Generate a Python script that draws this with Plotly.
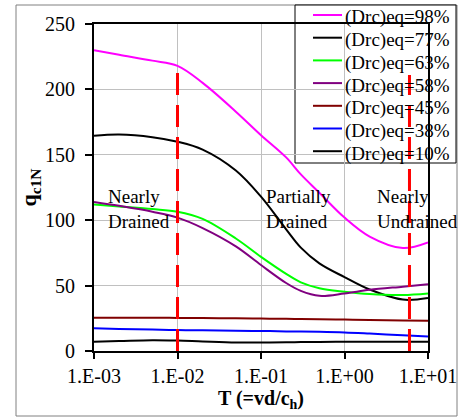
import plotly.graph_objects as go

# ---- data ----
T = [1e-3, 2e-3, 5e-3, 1e-2, 2e-2, 5e-2, 1e-1, 2e-1, 3e-1, 5e-1, 1e0, 2e0, 5e0, 1e1]

q98 = [230, 226.5, 222, 218, 205, 183, 165, 148, 135, 121, 102, 87.5, 78.7, 83]
q77 = [164.5, 165.5, 163.5, 160, 154, 138, 118, 93, 79, 67, 56.5, 47, 39.3, 40.5]
q63 = [112, 110.5, 108.5, 106.5, 101, 86, 72, 59, 52.5, 48, 45.3, 43.5, 42.8, 44]
q58 = [114, 111, 106.5, 102, 94, 80, 65.7, 52, 46, 42.2, 44, 46.8, 49.2, 51]
q45 = [25.5, 25.4, 25.4, 25.3, 25.2, 25.0, 24.8, 24.6, 24.4, 24.3, 24.0, 23.7, 23.4, 23.2]
q38 = [17.3, 16.9, 16.4, 16.0, 15.8, 15.5, 15.3, 15.0, 14.9, 14.7, 14.2, 13.3, 12.0, 11.0]
q10 = [7.1, 7.6, 8.3, 8.0, 7.3, 6.5, 6.5, 6.7, 6.8, 6.9, 7.1, 7.1, 7.1, 7.1]

series_names = ["(Drc)eq=98%", "(Drc)eq=77%", "(Drc)eq=63%", "(Drc)eq=58%",
                "(Drc)eq=45%", "(Drc)eq=38%", "(Drc)eq=10%"]
series_values = [q98, q77, q63, q58, q45, q38, q10]
series_colors = ["#ff00ff", "#000000", "#00ff00", "#800080", "#800000", "#0000ff", "#000000"]

# boundaries between drainage zones
bound_T = [1e-2, 6.0]
bound_top = [218, 211]

x_tickvals = [1e-3, 1e-2, 1e-1, 1e0, 1e1]
x_ticktext = ["1.E-03", "1.E-02", "1.E-01", "1.E+00", "1.E+01"]

zone_labels = ["Nearly<br>Drained", "Partially<br>Drained", "Nearly<br>Undrained"]
zone_label_px = [106, 264, 375]

FONT = "Liberation Serif"

# pixel geometry of the plot area
PX_L, PX_R, PY_T, PY_B = 94.0, 428.0, 24.0, 351.0


def px2paper_x(px):
    return (px - PX_L) / (PX_R - PX_L)


def py2paper_y(py):
    return (PY_B - py) / (PY_B - PY_T)


fig = go.Figure()

for name, vals, col in zip(series_names, series_values, series_colors):
    fig.add_trace(go.Scatter(x=T, y=vals, name=name, mode="lines", showlegend=False,
                             line=dict(color=col, width=2, shape="spline", smoothing=1.0)))

for bx, by in zip(bound_T, bound_top):
    fig.add_trace(go.Scatter(x=[bx, bx], y=[0, by], mode="lines", showlegend=False,
                             line=dict(color="#ff0000", width=3, dash="22px,10px")))

for txt, px in zip(zone_labels, zone_label_px):
    fig.add_annotation(text=txt, xref="paper", yref="paper", x=px2paper_x(px), y=py2paper_y(209),
                       xanchor="left", yanchor="middle", align="left", showarrow=False,
                       font=dict(family=FONT, size=19, color="black"))

# outer chart border
fig.add_shape(type="rect", xref="paper", yref="paper",
              x0=px2paper_x(16), x1=px2paper_x(457), y0=py2paper_y(416), y1=py2paper_y(5),
              line=dict(color="#808080", width=1), layer="below")

# legend box (drawn by hand so that row spacing matches the reference)
fig.add_shape(type="rect", xref="paper", yref="paper",
              x0=px2paper_x(295), x1=px2paper_x(456), y0=py2paper_y(163), y1=py2paper_y(5),
              line=dict(color="black", width=1), fillcolor="white", layer="between")
row0, row_gap = 15.0, 22.7
for i, (name, col) in enumerate(zip(series_names, series_colors)):
    ry = row0 + i * row_gap
    fig.add_shape(type="line", xref="paper", yref="paper",
                  x0=px2paper_x(313), x1=px2paper_x(342), y0=py2paper_y(ry), y1=py2paper_y(ry),
                  line=dict(color=col, width=2), layer="above")
    fig.add_annotation(text=name, xref="paper", yref="paper",
                       x=px2paper_x(343), y=py2paper_y(ry + 2.5),
                       xanchor="left", yanchor="middle", showarrow=False,
                       font=dict(family=FONT, size=19, color="black"))

fig.update_layout(
    width=458, height=417,
    margin=dict(l=94, r=30, t=24, b=66, autoexpand=False),
    paper_bgcolor="white", plot_bgcolor="white",
    font=dict(family=FONT, size=20, color="black"),
    showlegend=False,
    xaxis=dict(type="log", range=[-3, 1], tickvals=x_tickvals, ticktext=x_ticktext,
               showgrid=True, gridcolor="#c0c0c0", gridwidth=1,
               showline=True, linecolor="black", linewidth=2, mirror=True,
               ticks="outside", ticklen=6, tickwidth=1.5, tickcolor="black",
               zeroline=False, automargin=True,
               title=dict(text="<b>T (=vd/c<sub>h</sub>)</b>", standoff=0,
                          font=dict(family=FONT, size=20))),
    yaxis=dict(range=[0, 250], dtick=50, tick0=0,
               showgrid=True, gridcolor="#c0c0c0", gridwidth=1,
               showline=True, linecolor="black", linewidth=2, mirror=True,
               ticks="outside", ticklen=7, tickwidth=1.5, tickcolor="black",
               zeroline=False, ticklabelstandoff=6, automargin=True,
               title=dict(text="<b>q<sub>c1N</sub></b>", standoff=2,
                          font=dict(family=FONT, size=22))),
)

fig.write_html("out.html")
